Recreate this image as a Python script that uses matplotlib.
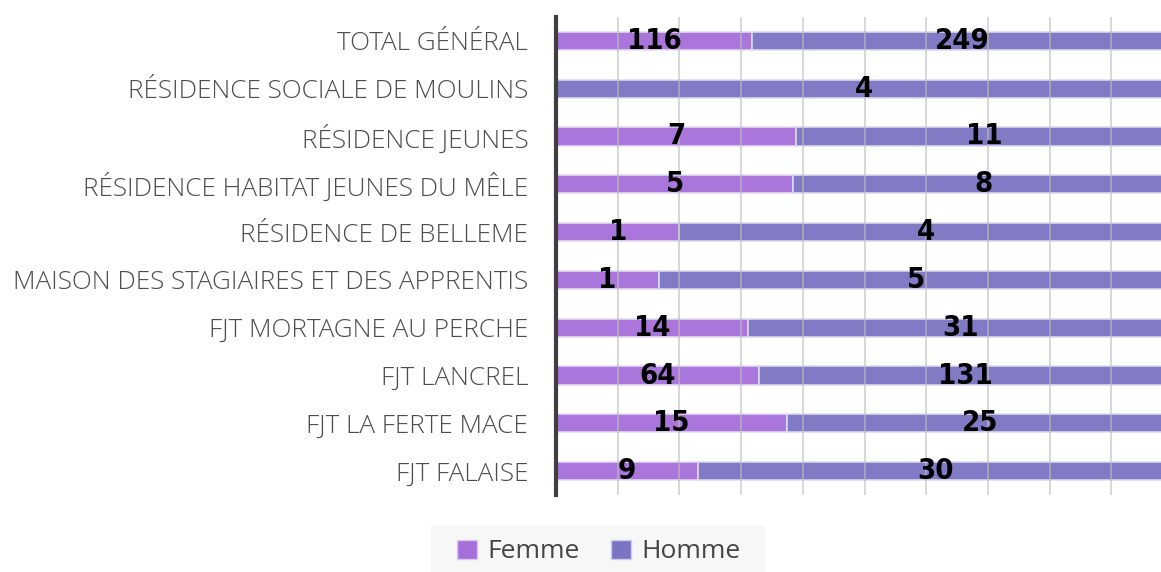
import matplotlib.pyplot as plt
import numpy as np
from matplotlib.patches import Patch, Rectangle

# données
categories = ["TOTAL GÉNÉRAL", "RÉSIDENCE SOCIALE DE MOULINS", "RÉSIDENCE JEUNES",
              "RÉSIDENCE HABITAT JEUNES DU MÊLE", "RÉSIDENCE DE BELLEME",
              "MAISON DES STAGIAIRES ET DES APPRENTIS", "FJT MORTAGNE AU PERCHE",
              "FJT LANCREL", "FJT LA FERTE MACE", "FJT FALAISE"]
femme = [116, 0, 7, 5, 1, 1, 14, 64, 15, 9]
homme = [249, 4, 11, 8, 4, 5, 31, 131, 25, 30]

col_femme = "#a66fd9"
col_homme = "#7a74c2"

fig = plt.figure(figsize=(11.61, 5.72), dpi=100)
# l'axe dépasse à droite comme dans l'original
ax = fig.add_axes([556 / 1161, 1 - 495 / 572, 617 / 1161, 478 / 572])

f = np.array(femme, dtype=float)
h = np.array(homme, dtype=float)
tot = f + h
pf = f / tot
ph = h / tot
y = np.arange(len(categories))

ax.barh(y, pf, height=0.38, color=col_femme, edgecolor="#e6dcf5", linewidth=1.2, alpha=0.95, zorder=2)
ax.barh(y, ph, left=pf, height=0.38, color=col_homme, edgecolor="#dcdaf0", linewidth=1.2, alpha=0.95, zorder=2)

lab_font = dict(family=["DejaVu Sans"], stretch="condensed", weight="bold", fontsize=21, color="black")
for i in range(len(categories)):
    if f[i] > 0:
        ax.text(pf[i] / 2, y[i], str(femme[i]), ha="center", va="center", zorder=4, **lab_font)
    if h[i] > 0:
        ax.text(pf[i] + ph[i] / 2, y[i], str(homme[i]), ha="center", va="center", zorder=4, **lab_font)

ax.set_xlim(0, 1)
ax.set_ylim(len(categories) - 0.5, -0.5)
ax.set_xticks(np.arange(0, 1.01, 0.1))
ax.set_xticklabels([])
ax.tick_params(axis="x", length=0)
ax.grid(axis="x", color="#bdbdbd", linewidth=1.2, zorder=3, alpha=0.7)
ax.set_axisbelow(False)

ax.set_yticks(y)
ax.set_yticklabels(categories, family=["Open Sans", "DejaVu Sans"], weight="light",
                   fontsize=18.8, color="#4d4d4d")
ax.tick_params(axis="y", length=0, pad=20)

for s in ["top", "right", "bottom"]:
    ax.spines[s].set_visible(False)
ax.spines["left"].set_color("#3f3f3f")
ax.spines["left"].set_linewidth(3)
ax.spines["left"].set_zorder(5)

# fond de la légende
fig.patches.append(Rectangle((431 / 1161, 0), 334 / 1161, 46 / 572, transform=fig.transFigure,
                             facecolor="#f7f7f7", edgecolor="none", zorder=0))
handles = [Patch(facecolor=col_femme, edgecolor="#d9c8f0", label="Femme"),
           Patch(facecolor=col_homme, edgecolor="#cfcdec", label="Homme")]
leg = fig.legend(handles=handles, loc="center", bbox_to_anchor=(599 / 1161, 1 - 552 / 572),
                 ncol=2, frameon=False, handlelength=0.75, handleheight=0.75,
                 handletextpad=0.4, columnspacing=1.2, borderpad=0, borderaxespad=0,
                 prop={"family": ["Open Sans", "DejaVu Sans"], "size": 19})
for t in leg.get_texts():
    t.set_color("#444444")

fig.savefig("out.png", dpi=100)
